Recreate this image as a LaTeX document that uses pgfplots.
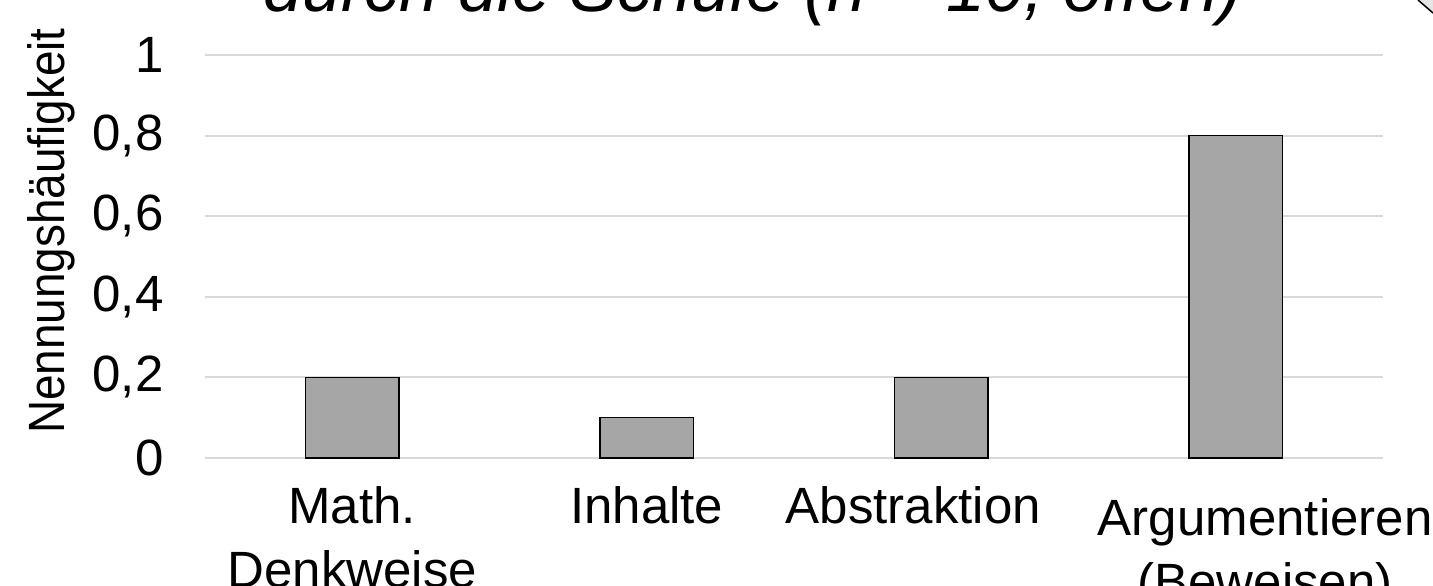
\documentclass[border=0pt]{standalone}
\usepackage{fontspec}
\setmainfont{Liberation Sans}
\newfontfamily\ylabfont{Liberation Sans}[FakeStretch=0.9]
\usepackage{pgfplots}
\pgfplotsset{compat=1.18}
\definecolor{barfill}{HTML}{A6A6A6}
\definecolor{gridc}{HTML}{D9D9D9}
\begin{document}
\begin{tikzpicture}[x=1pt,y=1pt]
\begin{axis}[
  at={(205pt,128pt)}, anchor=south west,
  scale only axis, width=1178pt, height=403pt,
  xmin=-0.5, xmax=3.5, ymin=0, ymax=1,
  axis line style={draw=none},
  clip=false,
  ytick={0,0.2,0.4,0.6,0.8,1},
  yticklabels={0,{0,2},{0,4},{0,6},{0,8},1},
  ymajorgrids, grid style={draw=gridc, line width=2pt},
  major tick length=0pt,
  yticklabel style={font=\fontsize{51}{60}\selectfont, xshift=-38pt},
  xtick={0,1,1.905},
  xticklabels={{Math.\\Denkweise},Inhalte,Abstraktion},
  xticklabel style={font=\fontsize{51}{64}\selectfont, align=center, anchor=north, yshift=-25pt},
  extra x ticks={3.1},
  extra x tick labels={{Argumentieren\\(Beweisen)}},
  extra x tick style={xticklabel style={yshift=-12pt}},
  ylabel={Nennungshäufigkeit},
  ylabel style={at={(axis description cs:-0.1303,0.563)}, anchor=center, font=\ylabfont\fontsize{51}{60}\selectfont},
]
\addplot[ybar, bar width=0.316, fill=barfill, draw=black, line width=1.5pt] coordinates {(0,0.2) (1,0.1) (2,0.2) (3,0.8)};
\end{axis}
\node[font=\itshape\fontsize{70}{80}\selectfont, anchor=base] at (753pt,574pt) {durch die Schule (n = 10, offen)};
\fill[gray!20] (1418pt,586pt) -- (1433pt,573pt) -- (1433pt,586pt) -- cycle;
\draw[black, line width=1.5pt] (1418pt,586pt) -- (1433pt,573pt);
\pgfresetboundingbox
\useasboundingbox (0,0) rectangle (1433pt,586pt);
\end{tikzpicture}
\end{document}
